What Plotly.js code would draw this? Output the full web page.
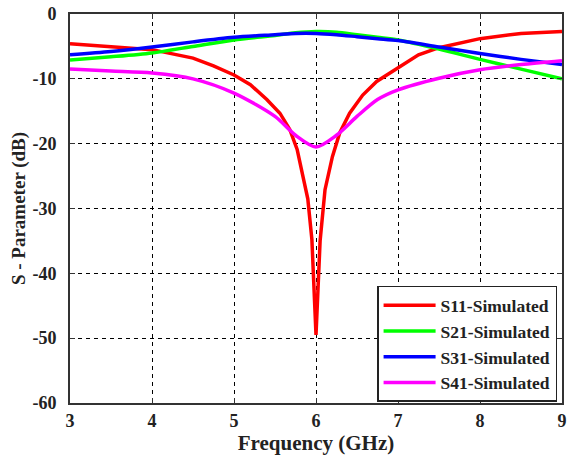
<!DOCTYPE html>
<html>
<head>
<meta charset="utf-8">
<script src="https://cdn.plot.ly/plotly-3.0.1.min.js"></script>
<style>html,body{margin:0;padding:0;background:#fff;}#chart{width:567px;height:457px;}</style>
</head>
<body>
<div id="chart"></div>
<script>
// S11 sampled more densely near the resonance
var freqS11 = [3, 3.5, 4, 4.5, 4.75, 5, 5.2, 5.4, 5.56, 5.68, 5.77, 5.84, 5.9, 5.95, 6.0, 6.05, 6.11, 6.2, 6.29, 6.41, 6.57, 6.74, 7.0, 7.25, 7.5, 8, 8.5, 9];
var s11 = [-4.6, -5.0, -5.5, -6.8, -8.0, -9.4, -10.9, -13.2, -15.3, -17.8, -20.9, -25, -28.5, -34.8, -49.5, -35, -27.1, -22, -18.3, -15.3, -12.5, -10.4, -8.3, -6.3, -5.2, -3.8, -3.0, -2.7];

var freq = [3, 3.5, 4, 4.5, 5, 5.5, 5.75, 6, 6.25, 6.5, 6.75, 7, 7.5, 8, 8.5, 9];
var s21 = [-7.1, -6.6, -6.0, -5.0, -4.0, -3.3, -2.9, -2.7, -2.8, -3.2, -3.6, -4.0, -5.4, -7.0, -8.5, -10.0];
var s31 = [-6.3, -5.8, -5.1, -4.3, -3.6, -3.2, -3.0, -3.0, -3.2, -3.5, -3.8, -4.1, -5.1, -6.1, -7.0, -7.8];
var s41 = [-8.5, -8.8, -9.1, -10.0, -12.2, -15.8, -18.7, -20.5, -18.7, -15.8, -13.2, -11.7, -9.9, -8.6, -7.8, -7.2];

var names = ['S11-Simulated', 'S21-Simulated', 'S31-Simulated', 'S41-Simulated'];
var colors = ['#ff0000', '#00ff00', '#0000ff', '#ff00ff'];
var tickVals = [0, -10, -20, -30, -40, -50, -60];
var xTicks = [3, 4, 5, 6, 7, 8, 9];

var xs = [freqS11, freq, freq, freq];
var ys = [s11, s21, s31, s41];
var data = ys.map(function (y, i) {
  return {
    x: xs[i], y: y, name: names[i], type: 'scatter', mode: 'lines',
    line: {color: colors[i], width: 3.5, shape: i === 0 ? 'linear' : 'spline', smoothing: 0.8}
  };
});

var fnt = 'Liberation Serif';
var layout = {
  width: 567, height: 457,
  margin: {l: 70, r: 5, t: 14, b: 54},
  paper_bgcolor: '#fff', plot_bgcolor: '#fff',
  font: {family: fnt, color: '#222', size: 16, weight: 'bold'},
  showlegend: true,
  legend: {
    x: 0.99, y: 0.003, xanchor: 'right', yanchor: 'bottom',
    bgcolor: '#fff', bordercolor: '#222', borderwidth: 1.5,
    font: {family: fnt, size: 17.5, weight: 'bold', color: '#222'},
    itemwidth: 52, tracegroupgap: 0
  },
  xaxis: {
    range: [3, 9], tickvals: xTicks, ticktext: xTicks.map(String),
    showgrid: true, gridcolor: '#000', gridwidth: 1, griddash: '4px,4px',
    showline: true, linecolor: '#333', linewidth: 2, mirror: 'ticks',
    ticks: 'inside', ticklen: 5, tickcolor: '#333', zeroline: false,
    tickfont: {family: fnt, size: 18, weight: 'bold', color: '#222'},
    title: {text: 'Frequency (GHz)', font: {family: fnt, size: 21, weight: 'bold', color: '#222'}, standoff: 3}
  },
  yaxis: {
    range: [-60, 0], tickvals: tickVals, ticktext: tickVals.map(String),
    showgrid: true, gridcolor: '#000', gridwidth: 1, griddash: '4px,4px',
    showline: true, linecolor: '#333', linewidth: 2, mirror: 'ticks',
    ticks: 'inside', ticklen: 5, tickcolor: '#333', zeroline: false,
    ticklabelstandoff: 8,
    tickfont: {family: fnt, size: 18, weight: 'bold', color: '#222'},
    title: {text: 'S - Parameter (dB)', font: {family: fnt, size: 19, weight: 'bold', color: '#222'}, standoff: 2}
  }
};

Plotly.newPlot('chart', data, layout, {displayModeBar: false, staticPlot: true});
</script>
</body>
</html>
